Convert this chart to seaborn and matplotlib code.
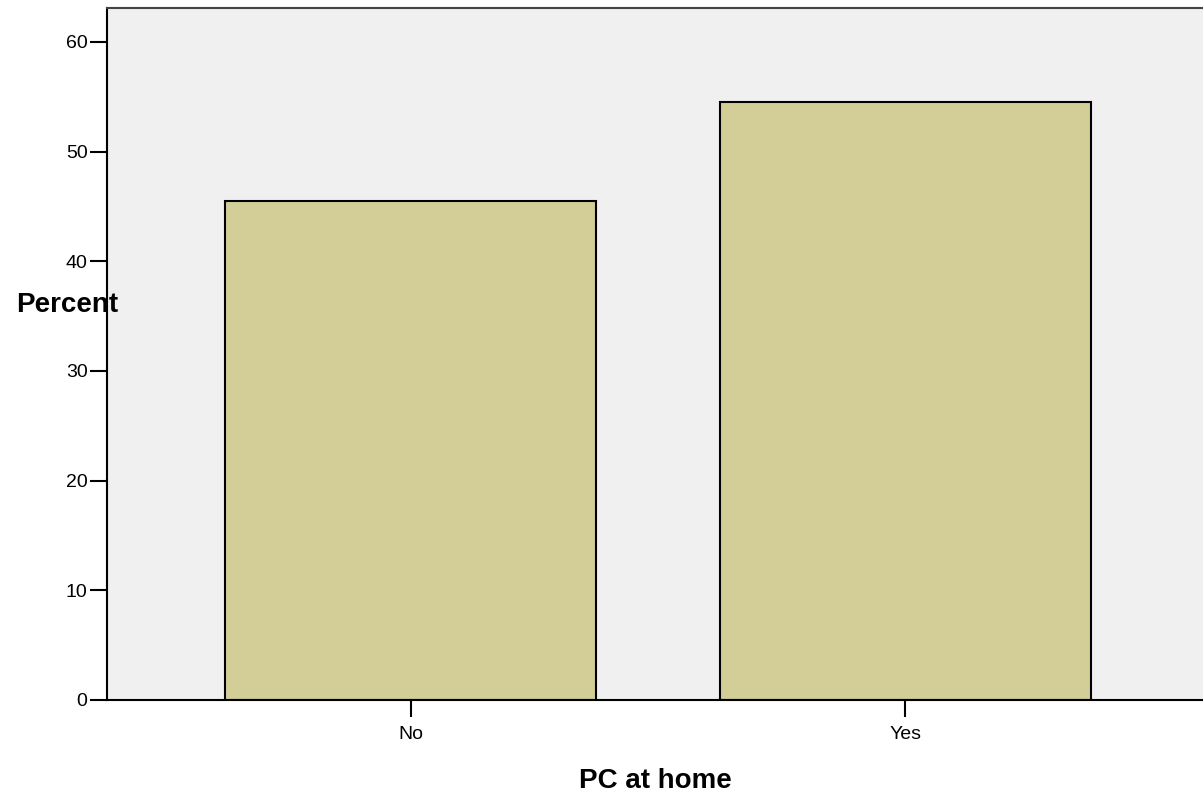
import matplotlib
matplotlib.use("Agg")
import matplotlib.pyplot as plt
import seaborn as sns
import pandas as pd

# data
categories = ["No", "Yes"]
percent = [45.5, 54.5]
y_ticks = [0, 10, 20, 30, 40, 50, 60]

sns.set_theme(style="white")
plt.rcParams['font.family'] = ['Liberation Sans', 'DejaVu Sans']
plt.rcParams['text.color'] = 'black'
plt.rcParams['axes.labelcolor'] = 'black'
plt.rcParams['xtick.color'] = 'black'
plt.rcParams['ytick.color'] = 'black'

df = pd.DataFrame({"PC at home": categories, "Percent": percent})

fig = plt.figure(figsize=(12.03, 7.96), dpi=100)
ax = fig.add_axes([107 / 1203, 1 - 700 / 796, 1 - 107 / 1203, (700 - 8) / 796])
ax.set_facecolor("#f0f0f0")

sns.barplot(data=df, x="PC at home", y="Percent", color="#d3ce97",
            saturation=1, width=0.75, edgecolor="black", linewidth=1.5, ax=ax)

ax.set_xlim(-0.614, 1.602)
ax.set_ylim(0, 692 / 10.967)
ax.set_yticks(y_ticks)

ax.spines["right"].set_visible(False)
ax.spines["top"].set_color("#444444")
ax.spines["top"].set_linewidth(1.5)
for s in ["left", "bottom"]:
    ax.spines[s].set_color("black")
    ax.spines[s].set_linewidth(1.5)

ax.tick_params(axis="y", direction="out", length=12, width=1.5, colors="black",
               labelsize=14, pad=2, left=True)
ax.tick_params(axis="x", direction="out", length=12, width=1.5, colors="black",
               labelsize=14, pad=7, bottom=True)

ax.set_xlabel("PC at home", fontsize=20, fontweight="bold", labelpad=18,
              color="black")
ax.set_ylabel("")
fig.text(67 / 1203, 1 - 305 / 796, "Percent", fontsize=20, fontweight="bold",
         ha="center", va="center", color="black")

plt.savefig("out.png", dpi=100)
